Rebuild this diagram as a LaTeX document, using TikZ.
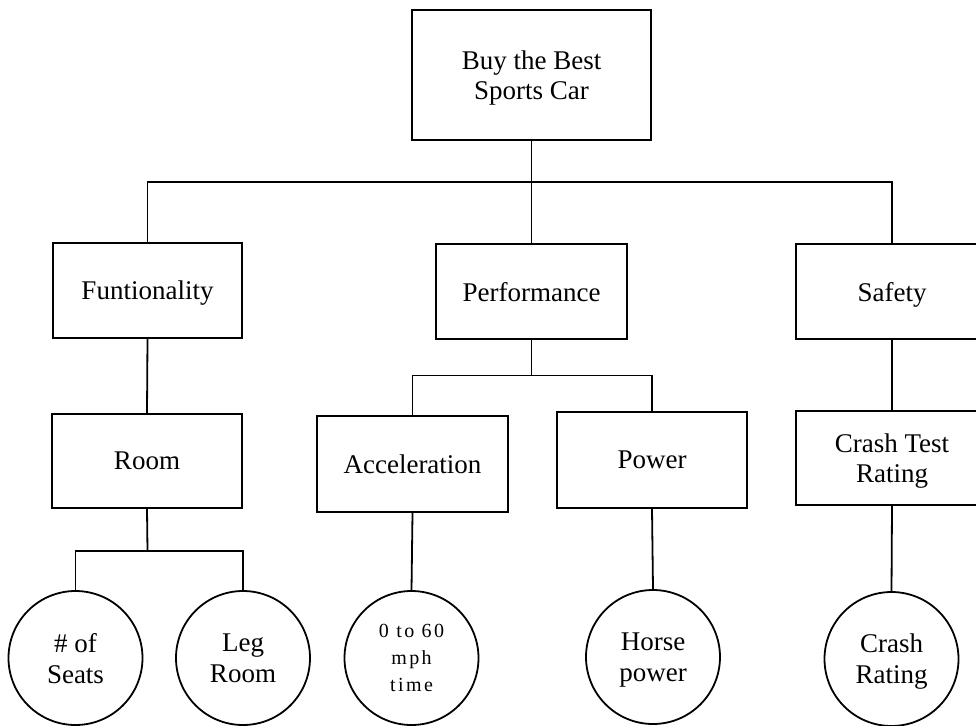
\documentclass[tikz,border=0pt]{standalone}
\usepackage{fontspec}
\setmainfont{Liberation Serif}
\newfontfamily\spacedfont[LetterSpace=12]{Liberation Serif}
\begin{document}
\begin{tikzpicture}[x=1pt,y=-1pt,
  line width=1.8pt,
  boxnode/.style={draw, rectangle, inner sep=0pt, align=center,
    text depth=0pt,
    font=\fontsize{27}{30}\selectfont},
  circnode/.style={draw, circle, minimum size=134pt, inner sep=0pt, align=center,
    text depth=0pt,
    font=\fontsize{27}{31}\selectfont},
  link/.style={line width=1.8pt}]
\useasboundingbox (0,0) rectangle (976,725);
\clip (0,0) rectangle (976,725);
% rectangles
\node[boxnode, minimum width=239pt, minimum height=130pt] (top) at (531.5,75) {Buy the Best\\Sports Car};
\node[boxnode, minimum width=189pt, minimum height=95pt] (fun) at (147.5,290.5) {Funtionality};
\node[boxnode, minimum width=191pt, minimum height=95pt] (perf) at (531.5,291.5) {Performance};
\node[boxnode, minimum width=192pt, minimum height=95pt] (saf) at (892,291.5) {Safety};
\node[boxnode, minimum width=190pt, minimum height=94pt] (room) at (147,461) {Room};
\node[boxnode, minimum width=191pt, minimum height=96pt] (acc) at (412.5,464) {Acceleration};
\node[boxnode, minimum width=190pt, minimum height=96pt] (pow) at (652,460) {Power};
\node[boxnode, minimum width=192pt, minimum height=94pt] (ctr) at (892,458) {Crash Test\\Rating};
% circles
\node[circnode] (seats) at (75.5,658) {\# of\\Seats};
\node[circnode] (leg) at (243,658) {Leg\\Room};
\node[circnode, font={\spacedfont\fontsize{20}{27}\selectfont}] (time) at (411.5,658) {0 to 60\\mph\\time};
\node[circnode] (horse) at (653,657) {Horse\\power};
\node[circnode] (crash) at (891.5,659) {Crash\\Rating};
% bus coordinates
\coordinate (b1) at (531.5,182);
\coordinate (b2) at (531.5,375.5);
\coordinate (b3) at (147.5,551);
% connectors
\draw[link] (top.south) -- (b1);
\draw[link] (fun.north) |- (b1) -| (saf.north);
\draw[link] (perf.north) -- (b1);
\draw[link] (perf.south) -- (b2);
\draw[link] (acc.north) |- (b2) -| (pow.north);
\draw[link] (fun.south) -- (room.north);
\draw[link] (room.south) -- (b3);
\draw[link] (seats.north) |- (b3) -| (leg.north);
\draw[link] (acc.south) -- (time.north);
\draw[link] (pow.south) -- (horse.north);
\draw[link] (saf.south) -- (ctr.north);
\draw[link] (ctr.south) -- (crash.north);
\end{tikzpicture}
\end{document}
